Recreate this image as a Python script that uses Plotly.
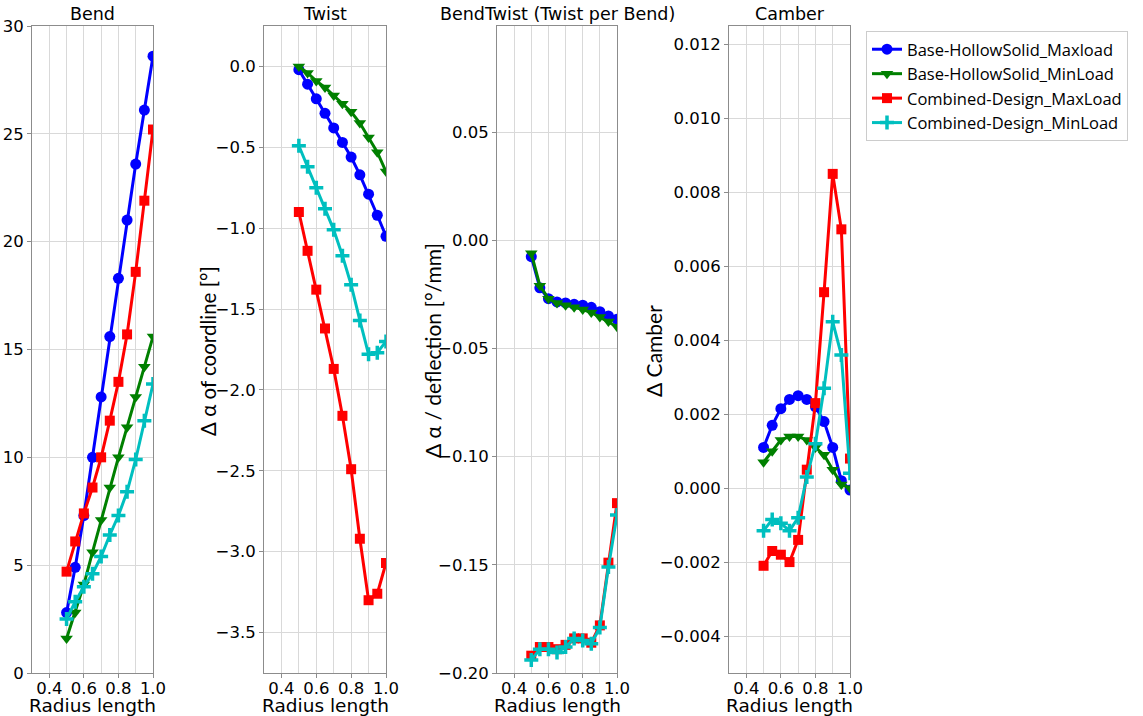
import plotly.graph_objects as go

W, H = 1143, 716

radius = [0.5, 0.55, 0.6, 0.65, 0.7, 0.75, 0.8, 0.85, 0.9, 0.95, 1.0]

series_names = ["Base-HollowSolid_Maxload", "Base-HollowSolid_MinLoad",
                "Combined-Design_MaxLoad", "Combined-Design_MinLoad"]

bend_base_max = [2.8, 4.9, 7.3, 10.0, 12.8, 15.6, 18.3, 21.0, 23.6, 26.1, 28.6]
bend_base_min = [1.6, 2.8, 4.1, 5.6, 7.1, 8.6, 10.0, 11.4, 12.8, 14.2, 15.6]
bend_comb_max = [4.7, 6.1, 7.4, 8.6, 10.0, 11.7, 13.5, 15.7, 18.6, 21.9, 25.2]
bend_comb_min = [2.5, 3.3, 4.0, 4.6, 5.4, 6.4, 7.3, 8.4, 9.9, 11.7, 13.4]

twist_base_max = [-0.02, -0.11, -0.20, -0.29, -0.38, -0.47, -0.56, -0.67, -0.79, -0.92, -1.05]
twist_base_min = [0.0, -0.04, -0.09, -0.13, -0.18, -0.23, -0.28, -0.35, -0.44, -0.53, -0.65]
twist_comb_max = [-0.90, -1.14, -1.38, -1.62, -1.87, -2.16, -2.49, -2.92, -3.30, -3.26, -3.07]
twist_comb_min = [-0.49, -0.62, -0.75, -0.88, -1.01, -1.17, -1.35, -1.57, -1.78, -1.77, -1.70]

bt_base_max = [-0.0076, -0.022, -0.027, -0.0285, -0.029, -0.0296, -0.030, -0.031, -0.033, -0.035, -0.0365]
bt_base_min = [-0.006, -0.021, -0.027, -0.029, -0.030, -0.031, -0.032, -0.0334, -0.0355, -0.0376, -0.040]
bt_comb_max = [-0.192, -0.188, -0.188, -0.189, -0.187, -0.184, -0.184, -0.186, -0.178, -0.149, -0.1215]
bt_comb_min = [-0.194, -0.189, -0.189, -0.1905, -0.188, -0.184, -0.185, -0.1865, -0.179, -0.151, -0.127]

camber_base_max = [0.0011, 0.0017, 0.00215, 0.0024, 0.0025, 0.0024, 0.0022, 0.0018, 0.0011, 0.0002, -0.00005]
camber_base_min = [0.0007, 0.0010, 0.0013, 0.0014, 0.0014, 0.0013, 0.0011, 0.0009, 0.0005, 0.0001, 0.0]
camber_comb_max = [-0.0021, -0.0017, -0.0018, -0.0020, -0.0014, 0.0005, 0.0023, 0.0053, 0.0085, 0.0070, 0.0008]
camber_comb_min = [-0.00115, -0.00085, -0.00095, -0.00115, -0.0008, 0.0003, 0.0012, 0.0027, 0.0045, 0.0036, 0.0004]

panel_titles = ["Bend", "Twist", "BendTwist (Twist per Bend)", "Camber"]
y_titles = [None, "Δ α of coordline [°]", "Δ α / deflection [°/mm]", "Δ Camber"]
x_title = "Radius length"

panels = [
    [bend_base_max, bend_base_min, bend_comb_max, bend_comb_min],
    [twist_base_max, twist_base_min, twist_comb_max, twist_comb_min],
    [bt_base_max, bt_base_min, bt_comb_max, bt_comb_min],
    [camber_base_max, camber_base_min, camber_comb_max, camber_comb_min],
]

colors = ["#0000ff", "#008000", "#ff0000", "#00bfbf"]
symbols = ["circle", "triangle-down", "square", "cross-thin"]
msizes = [11, 11, 10, 10]

# layout geometry (pixels)
px_left = [32, 264, 497, 729]
px_right = [153, 386, 617, 850]
top_px, bot_px = 26, 673
ytitle_x = [None, 208, 432, 653]
ytitle_size = [None, 20.5, 21, 21]

y_ranges = [[0, 30], [-3.75, 0.25], [-0.2, 0.099], [-0.005, 0.0125]]
y_dticks = [5, 0.5, 0.05, 0.002]
y_formats = ["d", ".1f", ".2f", ".3f"]

fig = go.Figure()
DV = "DejaVu Sans, Verdana, sans-serif"
TICKFONT = dict(family=DV, size=16.5, color="black")

for p in range(4):
    xa = "x" if p == 0 else f"x{p+1}"
    ya = "y" if p == 0 else f"y{p+1}"
    for s in range(4):
        mk = dict(symbol=symbols[s], size=msizes[s], color=colors[s])
        if symbols[s] == "cross-thin":
            mk["line"] = dict(color=colors[s], width=3.5)
        fig.add_trace(go.Scatter(
            x=radius, y=panels[p][s], mode="lines+markers",
            name=series_names[s], legendgroup=series_names[s],
            showlegend=(p == 0),
            line=dict(color=colors[s], width=3),
            marker=mk, xaxis=xa, yaxis=ya))

    dom_x = [px_left[p] / W, px_right[p] / W]
    dom_y = [(H - bot_px) / H, (H - top_px) / H]
    axname = "xaxis" if p == 0 else f"xaxis{p+1}"
    ayname = "yaxis" if p == 0 else f"yaxis{p+1}"
    fig.layout[axname] = dict(
        domain=dom_x, anchor=ya, range=[0.3, 1.0], automargin=False,
        tickmode="array", tickvals=[0.4, 0.6, 0.8, 1.0],
        ticktext=["0.4", "0.6", "0.8", "1.0"],
        showgrid=True, gridcolor="#d9d9d9", gridwidth=1,
        minor=dict(tickvals=[0.3, 0.5, 0.7, 0.9], showgrid=True,
                   gridcolor="#d9d9d9", gridwidth=1, ticks=""),
        showline=True, linecolor="#8c8c8c", linewidth=1, mirror=True,
        ticks="outside", ticklen=4, tickcolor="#8c8c8c",
        ticklabelstandoff=-4,
        tickfont=TICKFONT, zeroline=False,
    )
    fig.layout[ayname] = dict(
        domain=dom_y, anchor=xa, range=y_ranges[p], automargin=False,
        tick0=0, dtick=y_dticks[p], tickformat=y_formats[p],
        showgrid=True, gridcolor="#d9d9d9", gridwidth=1,
        showline=True, linecolor="#8c8c8c", linewidth=1, mirror=True,
        ticks="outside", ticklen=4, tickcolor="#8c8c8c",
        tickfont=TICKFONT, zeroline=False,
    )
    cx = (px_left[p] + px_right[p]) / 2 / W
    # panel title
    fig.add_annotation(
        text=panel_titles[p], xref="paper", yref="paper",
        x=cx, y=(H - 14) / H,
        xanchor="center", yanchor="middle", showarrow=False,
        font=dict(family=DV, size=17.5, color="black"))
    # x-axis title
    fig.add_annotation(
        text=x_title, xref="paper", yref="paper",
        x=cx, y=(H - 705) / H,
        xanchor="center", yanchor="middle", showarrow=False,
        font=dict(family=DV, size=18.5, color="black"))
    if y_titles[p]:
        fig.add_annotation(
            text=y_titles[p], xref="paper", yref="paper", textangle=-90,
            x=ytitle_x[p] / W, y=(H - 351) / H,
            xanchor="center", yanchor="middle", showarrow=False,
            font=dict(family="Lato", size=ytitle_size[p], color="black"))

fig.update_layout(
    width=W, height=H, autosize=False,
    margin=dict(l=0, r=0, t=0, b=0, pad=0),
    paper_bgcolor="white", plot_bgcolor="white",
    showlegend=True,
    legend=dict(x=866 / W, y=(H - 31) / H, xanchor="left", yanchor="top",
                bgcolor="white", bordercolor="#cccccc", borderwidth=1,
                font=dict(family="Open Sans", size=16.5, color="black"),
                tracegroupgap=0),
)

fig.write_html("out.html", config={"displayModeBar": False},
               post_script="document.body.style.margin='0px';document.body.style.overflow='hidden';")
